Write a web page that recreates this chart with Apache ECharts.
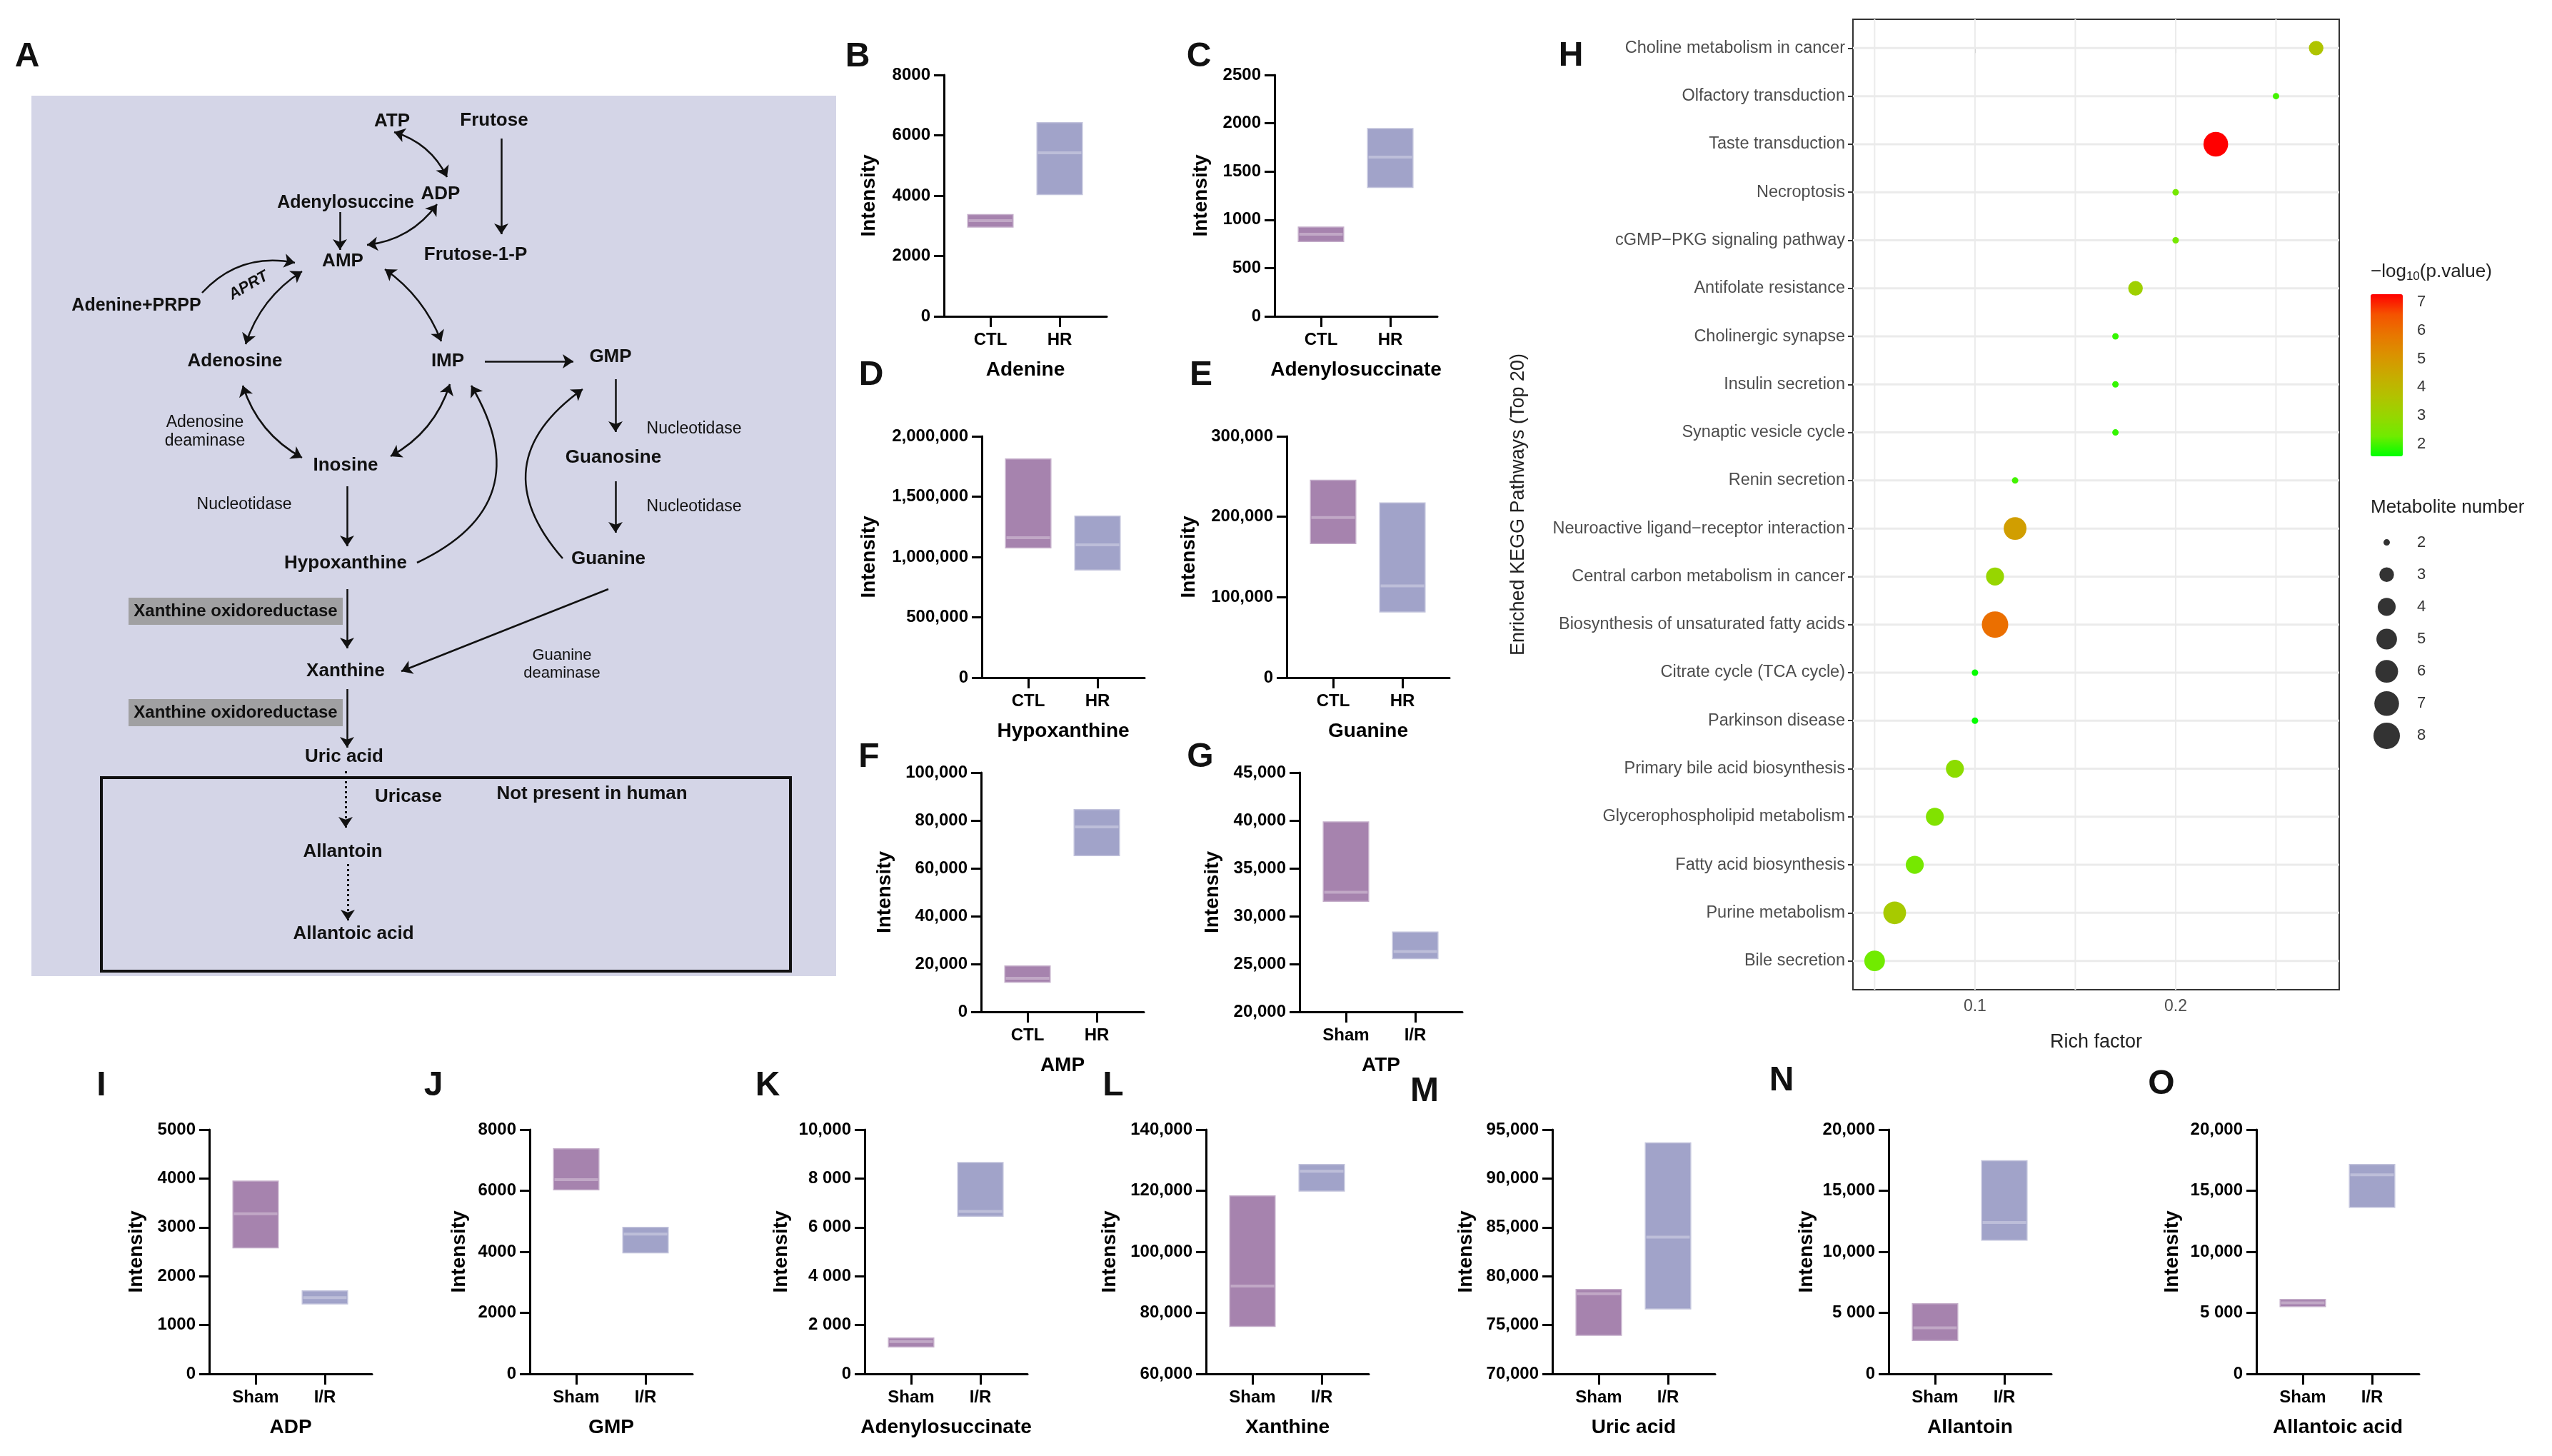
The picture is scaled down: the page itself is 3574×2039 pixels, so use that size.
<!DOCTYPE html>
<html><head><meta charset="utf-8">
<script src="https://cdn.jsdelivr.net/npm/echarts@6/dist/echarts.min.js"></script>
<style>html,body{margin:0;padding:0;background:#fff}#c{width:3574px;height:2039px}</style>
</head><body><div id="c"></div>
<script>
// ---------------- DATA ----------------
const groupsCTL = ['CTL', 'HR'];
const groupsIR = ['Sham', 'I/R'];
// [low, median, high] per group
const adenine = [[2940, 3170, 3390], [4020, 5420, 6440]];
const adenylosuccinateC = [[770, 850, 930], [1330, 1650, 1950]];
const hypoxanthine = [[1071000, 1160000, 1816000], [888000, 1100000, 1343000]];
const guanine = [[166000, 199000, 246000], [81000, 114000, 218000]];
const amp = [[12200, 14000, 19400], [65100, 77300, 84800]];
const atp = [[31500, 32500, 39900], [25500, 26300, 28400]];
const adp = [[2570, 3280, 3960], [1420, 1560, 1710]];
const gmp = [[6010, 6360, 7390], [3950, 4580, 4820]];
const adenylosuccinateK = [[1080, 1320, 1490], [6430, 6650, 8680]];
const xanthine = [[75400, 88800, 118500], [119700, 126400, 128800]];
const uricAcid = [[73900, 78200, 78700], [76600, 84000, 93700]];
const allantoin = [[2690, 3770, 5790], [10900, 12400, 17500]];
const allantoicAcid = [[5470, 5820, 6140], [13600, 16300, 17200]];

const pathways = ['Choline metabolism in cancer', 'Olfactory transduction', 'Taste transduction', 'Necroptosis',
  'cGMP\u2212PKG signaling pathway', 'Antifolate resistance', 'Cholinergic synapse', 'Insulin secretion',
  'Synaptic vesicle cycle', 'Renin secretion', 'Neuroactive ligand\u2212receptor interaction',
  'Central carbon metabolism in cancer', 'Biosynthesis of unsaturated fatty acids', 'Citrate cycle (TCA cycle)',
  'Parkinson disease', 'Primary bile acid biosynthesis', 'Glycerophospholipid metabolism', 'Fatty acid biosynthesis',
  'Purine metabolism', 'Bile secretion'];
const richFactor = [0.27, 0.25, 0.22, 0.20, 0.20, 0.18, 0.17, 0.17, 0.17, 0.12, 0.12, 0.11, 0.11, 0.10, 0.10, 0.09, 0.08, 0.07, 0.06, 0.05];
const metaboliteNumber = [3, 2, 7, 2, 2, 3, 2, 2, 2, 2, 6, 4, 8, 2, 2, 4, 4, 4, 6, 5];
const negLog10P = [3.6, 2.0, 7.28, 2.4, 2.4, 3.2, 1.9, 1.9, 1.9, 2.0, 4.8, 3.0, 6.0, 1.6, 1.6, 2.8, 2.6, 2.4, 3.4, 2.3];
const colorBreaks = [2, 3, 4, 5, 6, 7];
const sizeBreaks = [2, 3, 4, 5, 6, 7, 8];
const richTicks = [0.1, 0.2];
const richGridValues = [0.05, 0.1, 0.15, 0.2, 0.25];

// ---------------- STYLE ----------------
const FONT = 'Liberation Sans, Arial, Helvetica, sans-serif';
const C_CTL = '#a683ae', C_HR = '#a1a3c9';
const GW = 228;
const fmts = {
  plain: v => String(v),
  comma: v => v.toLocaleString('en-US'),
  mixed: v => v >= 10000 ? v.toLocaleString('en-US') : (v >= 1000 ? Math.floor(v / 1000) + ' ' + String(v % 1000).padStart(3, '0') : String(v))
};

const panels = [
  {data: adenine, groups: groupsCTL, title: 'Adenine', min: 0, max: 8000, interval: 2000, fmt: 'plain', left: 1322, top: 105, bottom: 443, ng: 91},
  {data: adenylosuccinateC, groups: groupsCTL, title: 'Adenylosuccinate', min: 0, max: 2500, interval: 500, fmt: 'plain', left: 1785, top: 105, bottom: 443, ng: 89},
  {data: hypoxanthine, groups: groupsCTL, title: 'Hypoxanthine', min: 0, max: 2000000, interval: 500000, fmt: 'comma', left: 1375, top: 611, bottom: 949, ng: 144},
  {data: guanine, groups: groupsCTL, title: 'Guanine', min: 0, max: 300000, interval: 100000, fmt: 'comma', left: 1802, top: 611, bottom: 949, ng: 123},
  {data: amp, groups: groupsCTL, title: 'AMP', min: 0, max: 100000, interval: 20000, fmt: 'comma', left: 1374, top: 1082, bottom: 1417, ng: 121},
  {data: atp, groups: groupsIR, title: 'ATP', min: 20000, max: 45000, interval: 5000, fmt: 'comma', left: 1820, top: 1082, bottom: 1417, ng: 108},
  {data: adp, groups: groupsIR, title: 'ADP', min: 0, max: 5000, interval: 1000, fmt: 'plain', left: 293, top: 1582, bottom: 1924, ng: 88},
  {data: gmp, groups: groupsIR, title: 'GMP', min: 0, max: 8000, interval: 2000, fmt: 'plain', left: 742, top: 1582, bottom: 1924, ng: 85},
  {data: adenylosuccinateK, groups: groupsIR, title: 'Adenylosuccinate', min: 0, max: 10000, interval: 2000, fmt: 'mixed', left: 1211, top: 1582, bottom: 1924, ng: 103},
  {data: xanthine, groups: groupsIR, title: 'Xanthine', min: 60000, max: 140000, interval: 20000, fmt: 'comma', left: 1689, top: 1582, bottom: 1924, ng: 121},
  {data: uricAcid, groups: groupsIR, title: 'Uric acid', min: 70000, max: 95000, interval: 5000, fmt: 'comma', left: 2174, top: 1582, bottom: 1924, ng: 107},
  {data: allantoin, groups: groupsIR, title: 'Allantoin', min: 0, max: 20000, interval: 5000, fmt: 'mixed', left: 2645, top: 1582, bottom: 1924, ng: 101},
  {data: allantoicAcid, groups: groupsIR, title: 'Allantoic acid', min: 0, max: 20000, interval: 5000, fmt: 'mixed', left: 3160, top: 1582, bottom: 1924, ng: 104}
];

function boxItem(params, api) {
  const x = api.value(0), lo = api.value(1), med = api.value(2), hi = api.value(3);
  const pLo = api.coord([x, lo]), pHi = api.coord([x, hi]), pMed = api.coord([x, med]);
  const w = api.size([0.67, 0])[0];
  const fill = x === 0 ? C_CTL : C_HR;
  return {type: 'group', children: [
    {type: 'rect', shape: {x: pLo[0] - w / 2, y: pHi[1], width: w, height: pLo[1] - pHi[1]},
      style: {fill: fill, stroke: 'rgba(255,255,255,0.35)', lineWidth: 3}},
    {type: 'line', shape: {x1: pLo[0] - w / 2 + 2, y1: pMed[1], x2: pLo[0] + w / 2 - 2, y2: pMed[1]},
      style: {stroke: 'rgba(255,255,255,0.3)', lineWidth: 4}}
  ]};
}

const grids = [], xAxes = [], yAxes = [], series = [];
const axisBlack = {color: '#000', width: 3};
panels.forEach((p, k) => {
  grids.push({left: p.left, top: p.top, width: GW, height: p.bottom - p.top, outerBoundsMode: 'none', containLabel: false});
  xAxes.push({gridIndex: k, type: 'value', min: -0.67, max: 1.68,
    axisLine: {show: true, onZero: false, lineStyle: axisBlack},
    axisTick: {show: true, customValues: [0, 1], length: 15, lineStyle: axisBlack},
    axisLabel: {customValues: [0, 1], formatter: v => p.groups[Math.round(v)], fontFamily: FONT, fontWeight: 'bold', fontSize: 24, color: '#000', margin: 21},
    splitLine: {show: false},
    name: p.title, nameLocation: 'middle', nameGap: 61,
    nameTextStyle: {fontFamily: FONT, fontWeight: 'bold', fontSize: 28, color: '#000'}});
  yAxes.push({gridIndex: k, type: 'value', min: p.min, max: p.max, interval: p.interval,
    axisLine: {show: true, onZero: false, lineStyle: axisBlack},
    axisTick: {show: true, length: 14, lineStyle: axisBlack},
    axisLabel: {formatter: fmts[p.fmt], fontFamily: FONT, fontWeight: 'bold', fontSize: 24, color: '#000', margin: 19},
    splitLine: {show: false},
    name: 'Intensity', nameLocation: 'middle', nameGap: p.ng, nameRotate: 90,
    nameTextStyle: {fontFamily: FONT, fontWeight: 'bold', fontSize: 28, color: '#000'}});
  series.push({type: 'custom', xAxisIndex: k, yAxisIndex: k, renderItem: boxItem, encode: {x: 0, y: [1, 2, 3]},
    data: p.data.map((d, i) => [i, d[0], d[1], d[2]]), silent: true});
});

// ---------------- Panel A (diagram in pixel-space cartesian) ----------------
const gA = grids.length;
grids.push({left: 0, top: 0, width: 3574, height: 2039, outerBoundsMode: 'none'});
xAxes.push({gridIndex: gA, type: 'value', min: 0, max: 3574, show: false});
yAxes.push({gridIndex: gA, type: 'value', min: 0, max: 2039, inverse: true, show: false});
const arrowsSingle = [
  {coords: [[702, 194], [702, 328]]},
  {coords: [[476, 297], [476, 350]]},
  {coords: [[283, 410], [413, 368]], lineStyle: {curveness: 0.28}},
  {coords: [[679, 506], [803, 506]]},
  {coords: [[862, 531], [862, 605]]},
  {coords: [[584, 788], [660, 540]], lineStyle: {curveness: -0.55}},
  {coords: [[788, 782], [816, 545]], lineStyle: {curveness: 0.55}},
  {coords: [[486, 681], [486, 765]]},
  {coords: [[862, 674], [862, 746]]},
  {coords: [[486, 825], [486, 908]]},
  {coords: [[852, 825], [562, 940]]},
  {coords: [[486, 965], [486, 1047]]}
];
const arrowsDouble = [
  {coords: [[552, 185], [626, 248]], lineStyle: {curveness: 0.22}},
  {coords: [[612, 286], [514, 343]], lineStyle: {curveness: 0.22}},
  {coords: [[423, 380], [344, 482]], lineStyle: {curveness: -0.18}},
  {coords: [[539, 377], [618, 478]], lineStyle: {curveness: 0.15}},
  {coords: [[340, 540], [423, 641]], lineStyle: {curveness: -0.2}},
  {coords: [[630, 538], [547, 639]], lineStyle: {curveness: 0.2}}
];
const arrowsDotted = [
  {coords: [[484, 1080], [484, 1159]]},
  {coords: [[487, 1210], [487, 1289]]}
];
const arrowBase = {type: 'lines', coordinateSystem: 'cartesian2d', xAxisIndex: gA, yAxisIndex: gA, silent: true, z: 5,
  symbolSize: 15, lineStyle: {color: '#111', width: 2.5, opacity: 1}};
series.push(Object.assign({}, arrowBase, {symbol: ['none', 'arrow'], data: arrowsSingle}));
series.push(Object.assign({}, arrowBase, {symbol: ['arrow', 'arrow'], data: arrowsDouble}));
series.push(Object.assign({}, arrowBase, {symbol: ['none', 'arrow'], data: arrowsDotted,
  lineStyle: {color: '#111', width: 3, type: [3, 4], opacity: 1}}));

// ---------------- Panel H (KEGG bubble) ----------------
const gH = grids.length;
grids.push({left: 2595, top: 27, width: 681, height: 1359, show: true, borderColor: '#333', borderWidth: 2, backgroundColor: '#fff', outerBoundsMode: 'none'});
const rowIdx = pathways.map((_, i) => i);
xAxes.push({gridIndex: gH, type: 'value', min: 0.0392, max: 0.2815,
  axisLine: {show: false},
  axisTick: {show: true, customValues: richTicks, length: 7, lineStyle: {color: '#333', width: 2}},
  axisLabel: {customValues: richTicks, formatter: v => v.toFixed(1), fontFamily: FONT, fontSize: 23, color: '#4d4d4d', margin: 12},
  splitLine: {show: false},
  name: 'Rich factor', nameLocation: 'middle', nameGap: 60,
  nameTextStyle: {fontFamily: FONT, fontSize: 27, color: '#222'}});
yAxes.push({gridIndex: gH, type: 'value', min: -0.6, max: 19.6, inverse: true,
  axisLine: {show: false},
  axisTick: {show: true, customValues: rowIdx, length: 7, lineStyle: {color: '#333', width: 2}},
  axisLabel: {customValues: rowIdx, formatter: v => pathways[Math.round(v)], fontFamily: FONT, fontSize: 23.5, color: '#4d4d4d', margin: 11},
  splitLine: {show: false},
  name: 'Enriched KEGG Pathways (Top 20)', nameLocation: 'middle', nameGap: 455, nameRotate: 90,
  nameTextStyle: {fontFamily: FONT, fontSize: 27, color: '#222'}});
series.push({type: 'custom', xAxisIndex: gH, yAxisIndex: gH, silent: true, z: 1,
  data: rowIdx.map(i => [i]), encode: {y: 0},
  renderItem: function (params, api) {
    const cs = params.coordSys;
    const y = api.coord([0.1, api.value(0)])[1];
    const ch = [{type: 'line', shape: {x1: cs.x, y1: y, x2: cs.x + cs.width, y2: y}, style: {stroke: '#ebebeb', lineWidth: 3}}];
    if (params.dataIndex === 0) {
      richGridValues.forEach(v => {
        const x = api.coord([v, 0])[0];
        ch.push({type: 'line', shape: {x1: x, y1: cs.y, x2: x, y2: cs.y + cs.height}, style: {stroke: '#ebebeb', lineWidth: 2}});
      });
    }
    return {type: 'group', children: ch};
  }});
function dotSize(n) { return 9 + 28 * Math.sqrt((n - 2) / 6); }
const hScatterIndex = series.length;
series.push({type: 'scatter', xAxisIndex: gH, yAxisIndex: gH, z: 3, silent: true,
  data: pathways.map((p, i) => [richFactor[i], i, negLog10P[i], metaboliteNumber[i]]),
  symbolSize: v => dotSize(v[3]), itemStyle: {opacity: 1}});

// colorbar labels axis
const gCB = grids.length;
grids.push({left: 3320, top: 412, width: 45, height: 227, outerBoundsMode: 'none'});
xAxes.push({gridIndex: gCB, type: 'value', min: 0, max: 1, show: false});
yAxes.push({gridIndex: gCB, type: 'value', min: 1.57, max: 7.28, position: 'right',
  axisLine: {show: false}, axisTick: {show: false}, splitLine: {show: false},
  axisLabel: {customValues: colorBreaks, formatter: v => String(v), fontFamily: FONT, fontSize: 22, color: '#333', margin: 20}});
series.push({type: 'scatter', xAxisIndex: gCB, yAxisIndex: gCB, data: [], silent: true});

// size legend
const gSL = grids.length;
grids.push({left: 3320, top: 737, width: 45, height: 316, outerBoundsMode: 'none'});
xAxes.push({gridIndex: gSL, type: 'value', min: -1, max: 1, show: false});
yAxes.push({gridIndex: gSL, type: 'category', data: sizeBreaks.map(String), inverse: true, position: 'right',
  axisLine: {show: false}, axisTick: {show: false}, splitLine: {show: false},
  axisLabel: {fontFamily: FONT, fontSize: 22, color: '#333', margin: 20}});
series.push({type: 'scatter', xAxisIndex: gSL, yAxisIndex: gSL, silent: true,
  data: sizeBreaks.map(v => [0, String(v), v]), symbolSize: v => dotSize(v[2]), itemStyle: {color: '#000'}});

// ---------------- Graphic: panel A texts, boxes, letters, legend titles ----------------
const G = [];
function txt(x, y, text, size, weight, extra) {
  G.push(Object.assign({type: 'text', x: x, y: y, z: 100, silent: true,
    style: {text: text, fontFamily: FONT, fontSize: size, fontWeight: weight || 'normal', fill: '#111', align: 'center', verticalAlign: 'middle'}}, extra || {}));
}
G.push({type: 'rect', z: 0, silent: true, shape: {x: 44, y: 134, width: 1127, height: 1233}, style: {fill: '#d4d5e7'}});
G.push({type: 'rect', z: 1, silent: true, shape: {x: 180, y: 837, width: 300, height: 38}, style: {fill: '#a0a0a2'}});
G.push({type: 'rect', z: 1, silent: true, shape: {x: 180, y: 979, width: 300, height: 38}, style: {fill: '#a0a0a2'}});
G.push({type: 'rect', z: 2, silent: true, shape: {x: 142, y: 1089, width: 965, height: 271}, style: {fill: 'none', stroke: '#111', lineWidth: 4}});
const B = 'bold';
txt(549, 170, 'ATP', 26, B); txt(692, 169, 'Frutose', 26, B);
txt(617, 272, 'ADP', 26, B); txt(484, 284, 'Adenylosuccine', 25, B);
txt(480, 366, 'AMP', 26, B); txt(666, 357, 'Frutose-1-P', 26, B);
txt(191, 428, 'Adenine+PRPP', 25, B);
txt(348, 400, 'APRT', 22, B, {rotation: 0.52, style: {text: 'APRT', fontFamily: FONT, fontSize: 22, fontWeight: 'bold', fontStyle: 'italic', fill: '#111', align: 'center', verticalAlign: 'middle'}});
txt(329, 506, 'Adenosine', 26, B); txt(627, 506, 'IMP', 26, B); txt(855, 500, 'GMP', 26, B);
txt(287, 592, 'Adenosine', 23); txt(287, 618, 'deaminase', 23);
txt(972, 601, 'Nucleotidase', 23); txt(859, 641, 'Guanosine', 26, B); txt(484, 652, 'Inosine', 26, B);
txt(342, 707, 'Nucleotidase', 23); txt(972, 710, 'Nucleotidase', 23);
txt(484, 789, 'Hypoxanthine', 26, B); txt(852, 783, 'Guanine', 26, B);
txt(330, 856, 'Xanthine oxidoreductase', 24, B);
txt(484, 940, 'Xanthine', 26, B);
txt(787, 918, 'Guanine', 22); txt(787, 943, 'deaminase', 22);
txt(330, 998, 'Xanthine oxidoreductase', 24, B);
txt(482, 1060, 'Uric acid', 26, B);
txt(572, 1116, 'Uricase', 26, B); txt(829, 1112, 'Not present in human', 26, B);
txt(480, 1193, 'Allantoin', 26, B); txt(495, 1308, 'Allantoic acid', 26, B);
// panel letters
const letters = [['A', 38, 80], ['B', 1201, 80], ['C', 1679, 80], ['D', 1220, 526], ['E', 1682, 526], ['F', 1217, 1061], ['G', 1681, 1061],
  ['H', 2200, 79], ['I', 142, 1521], ['J', 607, 1521], ['K', 1075, 1521], ['L', 1559, 1521], ['M', 1995, 1529], ['N', 2495, 1514], ['O', 3027, 1519]];
letters.forEach(l => txt(l[1], l[2], l[0], 48, B, null));
// legend titles
G.push({type: 'text', x: 3320, y: 381, z: 100, silent: true, style: {text: '\u2212log{sub|10}(p.value)', fontFamily: FONT, fontSize: 26, fill: '#222', align: 'left', verticalAlign: 'middle',
  rich: {sub: {fontFamily: FONT, fontSize: 17, fill: '#222', padding: [12, 0, 0, 0]}}}});
G.push({type: 'text', x: 3320, y: 711, z: 100, silent: true, style: {text: 'Metabolite number', fontFamily: FONT, fontSize: 26, fill: '#222', align: 'left', verticalAlign: 'middle'}});

const option = {
  backgroundColor: '#fff',
  animation: false,
  grid: grids, xAxis: xAxes, yAxis: yAxes, series: series,
  visualMap: [{type: 'continuous', seriesIndex: hScatterIndex, dimension: 2, min: 1.57, max: 7.28,
    inRange: {color: ['#00ff00', '#70eb00', '#97d600', '#b3c100', '#c8ab00', '#da9200', '#e87600', '#f55300', '#ff0000']},
    left: 3320, top: 412, itemWidth: 45, itemHeight: 227, calculable: false, text: null, padding: 0, orient: 'vertical', hoverLink: false}],
  graphic: {elements: G}
};
const chart = echarts.init(document.getElementById('c'), null, {width: 3574, height: 2039});
chart.setOption(option);
</script></body></html>
